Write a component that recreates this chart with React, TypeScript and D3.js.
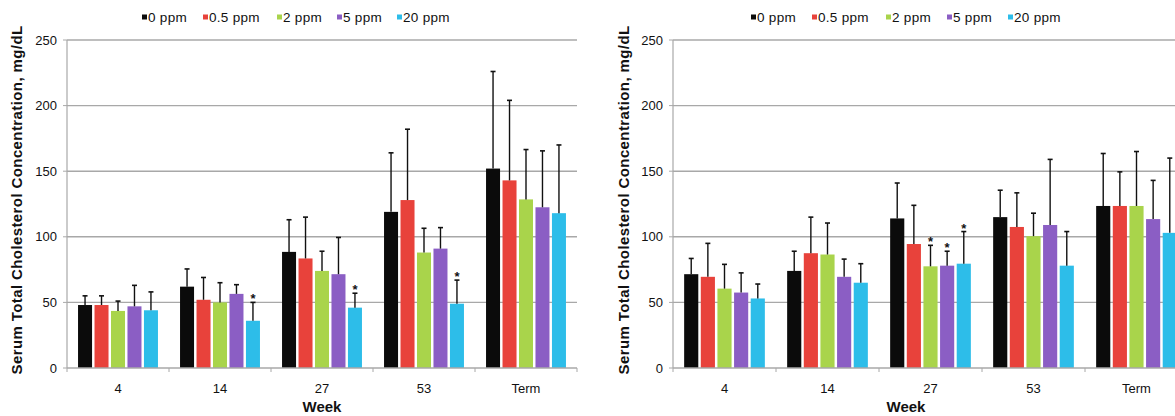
import React from "react";
import * as d3 from "d3";

const categories = ["4", "14", "27", "53", "Term"];
const seriesNames = ["0 ppm", "0.5 ppm", "2 ppm", "5 ppm", "20 ppm"];
const seriesColors = ["#0b0b0b", "#e8423b", "#a9d44b", "#8b5ec4", "#2dbde9"];
const yTicks = [0, 50, 100, 150, 200, 250];

// Left panel: means and upper error (mean + SD) per series, per week
const leftMeans = [
  [48, 62, 88.5, 119, 152],
  [48, 52, 83.5, 128, 143],
  [43.5, 50, 74, 88, 128.5],
  [47, 56.5, 71.5, 91, 122.5],
  [44, 36, 46, 49, 118],
];
const leftErrTop = [
  [55, 75.5, 113, 164, 226],
  [55, 69, 115, 182, 204],
  [51, 65, 89, 106.5, 166.5],
  [63, 63.5, 99.5, 107, 165.5],
  [58, 50, 57, 67, 170],
];
const leftStars = [
  [false, false, false, false, false],
  [false, false, false, false, false],
  [false, false, false, false, false],
  [false, false, false, false, false],
  [false, true, true, true, false],
];

// Right panel
const rightMeans = [
  [71.5, 74, 114, 115, 123.5],
  [69.5, 87.5, 94.5, 107.5, 123.5],
  [60.5, 86.5, 77.5, 100.5, 123.5],
  [57.5, 69.5, 78, 109, 113.5],
  [53, 65, 79.5, 78, 103],
];
const rightErrTop = [
  [83.5, 89, 141, 135.5, 163.5],
  [95, 115, 124, 133.5, 149.5],
  [79, 110.5, 93.5, 118, 165],
  [72.5, 83, 89, 159, 143],
  [64, 79.5, 104, 104, 160],
];
const rightStars = [
  [false, false, false, false, false],
  [false, false, false, false, false],
  [false, false, true, false, false],
  [false, false, true, false, false],
  [false, false, true, false, false],
];

const FONT = "'Liberation Sans', Arial, sans-serif";

type PanelProps = {
  x0: number;
  x1: number;
  means: number[][];
  errTop: number[][];
  stars: boolean[][];
  legendX: number[];
  titleX: number;
  weekX: number;
};

function Panel({ x0, x1, means, errTop, stars, legendX, titleX, weekX }: PanelProps) {
  const y = d3.scaleLinear().domain([0, 250]).range([368, 40]);
  const xCat = d3.scaleBand<string>().domain(categories).range([x0, x1]).paddingInner(0).paddingOuter(0);
  const xSer = d3
    .scaleBand<string>()
    .domain(seriesNames)
    .range([0, xCat.bandwidth()])
    .paddingInner(0.15)
    .paddingOuter(0.67);
  const bw = xSer.bandwidth();
  const grid = "#a8a8a8";

  return (
    <g>
      {yTicks.slice(1).map((t) => (
        <line key={"g" + t} x1={x0} x2={x1} y1={y(t)} y2={y(t)} stroke={grid} strokeWidth={1.4} />
      ))}
      <line x1={x0} x2={x0} y1={y(250)} y2={y(0)} stroke={grid} strokeWidth={1.2} />
      {yTicks.map((t) => (
        <g key={"t" + t}>
          <line x1={x0 - 4} x2={x0} y1={y(t)} y2={y(t)} stroke={grid} strokeWidth={1} />
          <text x={x0 - 10} y={y(t)} dy="0.35em" textAnchor="end" fontFamily={FONT} fontSize={13} fill="#111">
            {t}
          </text>
        </g>
      ))}
      {seriesNames.map((s, si) =>
        categories.map((c, ci) => {
          const bx = (xCat(c) as number) + (xSer(s) as number);
          const v = means[si][ci];
          const e = errTop[si][ci];
          const cx = bx + bw / 2;
          return (
            <g key={s + c}>
              <rect x={bx} y={y(v)} width={bw} height={y(0) - y(v)} fill={seriesColors[si]} />
              <line x1={cx} x2={cx} y1={y(v)} y2={y(e)} stroke="#111" strokeWidth={1.4} />
              <line x1={cx - 2.5} x2={cx + 2.5} y1={y(e)} y2={y(e)} stroke="#111" strokeWidth={1.6} />
              {stars[si][ci] && (
                <text
                  x={cx}
                  y={y(e) + 1}
                  textAnchor="middle"
                  fontFamily={FONT}
                  fontSize={13}
                  fontWeight="bold"
                  fill="#111"
                >
                  *
                </text>
              )}
            </g>
          );
        })
      )}
      <line x1={x0} x2={x1} y1={y(0)} y2={y(0)} stroke={grid} strokeWidth={1.4} />
      {categories.map((c) => (
        <line
          key={"ct" + c}
          x1={xCat(c) as number}
          x2={xCat(c) as number}
          y1={y(0)}
          y2={y(0) + 4}
          stroke={grid}
          strokeWidth={1}
        />
      ))}
      <line x1={x1} x2={x1} y1={y(0)} y2={y(0) + 4} stroke={grid} strokeWidth={1} />
      {categories.map((c) => (
        <text
          key={"cl" + c}
          x={(xCat(c) as number) + xCat.bandwidth() / 2}
          y={393}
          textAnchor="middle"
          fontFamily={FONT}
          fontSize={13}
          fill="#111"
        >
          {c}
        </text>
      ))}
      <text x={weekX} y={412} textAnchor="middle" fontFamily={FONT} fontSize={15} fontWeight="bold" fill="#111">
        Week
      </text>
      <text
        transform={`translate(${titleX},200) rotate(-90)`}
        textAnchor="middle"
        dy="0.35em"
        fontFamily={FONT}
        fontSize={15}
        fontWeight="bold"
        letterSpacing={0.4}
        fill="#111"
      >
        Serum Total Cholesterol Concentration, mg/dL
      </text>
      {seriesNames.map((s, si) => (
        <g key={"lg" + s}>
          <rect x={legendX[si]} y={14.5} width={5} height={5} fill={seriesColors[si]} />
          <text
            x={legendX[si] + 6}
            y={17}
            dy="0.35em"
            fontFamily={FONT}
            fontSize={13.5}
            letterSpacing={0.3}
            fill="#111"
          >
            {s}
          </text>
        </g>
      ))}
    </g>
  );
}

export default function App() {
  return (
    <div style={{ position: "absolute", left: 0, top: 0 }}>
      <svg width={1175} height={416} style={{ display: "block", background: "#fff" }}>
        <Panel
          x0={67}
          x1={577}
          means={leftMeans}
          errTop={leftErrTop}
          stars={leftStars}
          legendX={[142, 203, 277, 337, 397]}
          titleX={17}
          weekX={322}
        />
        <Panel
          x0={673}
          x1={1188}
          means={rightMeans}
          errTop={rightErrTop}
          stars={rightStars}
          legendX={[751, 812, 886, 947, 1008]}
          titleX={624}
          weekX={906}
        />
      </svg>
    </div>
  );
}
